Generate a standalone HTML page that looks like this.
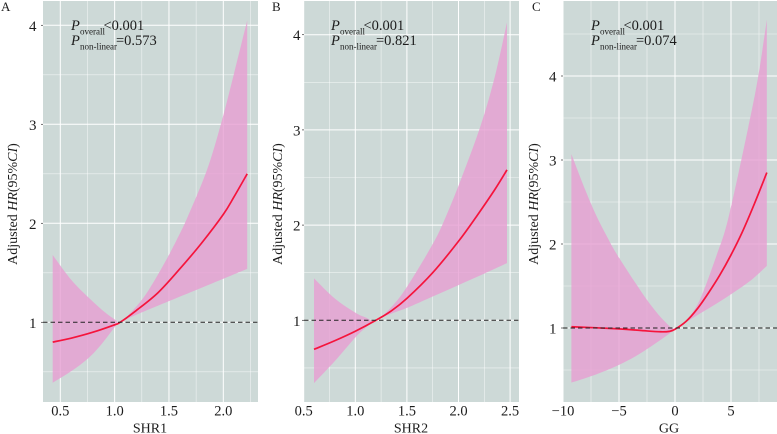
<!DOCTYPE html>
<html lang="en">
<head>
<meta charset="utf-8">
<title>Adjusted HR restricted cubic spline panels</title>
<style>
html,body{margin:0;padding:0;background:#fff;}
svg{display:block;font-family:"Liberation Serif",serif;fill:#1c1c1c;}
</style>
</head>
<body>
<svg id="chart" width="777" height="434" viewBox="0 0 777 434" xmlns="http://www.w3.org/2000/svg"></svg>
<script>
// Panel A data
const aLineX = [0.43,0.6,0.8,1.0,1.05,1.2,1.4,1.6,1.8,2.0,2.1,2.22];
const aLineY = [0.80,0.84,0.90,0.975,1.0,1.12,1.30,1.54,1.80,2.09,2.27,2.50];
const aUpperX = [0.43,0.6,0.76,0.9,1.0,1.05,1.15,1.26,1.36,1.47,1.57,1.67,1.85,1.98,2.1,2.22];
const aUpperY = [1.68,1.43,1.25,1.11,1.03,1.0,1.10,1.24,1.41,1.62,1.83,2.06,2.54,3.01,3.52,4.05];
const aLowerX = [0.43,0.6,0.76,0.88,1.0,1.05,1.25,1.47,1.78,2.0,2.22];
const aLowerY = [0.39,0.505,0.64,0.78,0.95,1.0,1.10,1.20,1.34,1.44,1.54];
const aXTicks = [0.5,1.0,1.5,2.0];
const aXMinor = [0.75,1.25,1.75,2.25];
const aYTicks = [1,2,3,4];
const aYMinor = [0.5,1.5,2.5,3.5];
// Panel B data
const bLineX = [0.6,0.8,1.0,1.2,1.35,1.5,1.75,2.0,2.18,2.35,2.47];
const bLineY = [0.695,0.785,0.885,1.0,1.10,1.23,1.50,1.83,2.10,2.37,2.58];
const bUpperX = [0.6,0.8,1.0,1.1,1.2,1.35,1.5,1.75,1.87,2.02,2.21,2.35,2.47];
const bUpperY = [1.44,1.23,1.08,1.03,1.0,1.14,1.35,1.80,2.07,2.47,3.03,3.55,4.13];
const bLowerX = [0.6,0.8,1.0,1.1,1.2,1.35,1.5,1.75,2.0,2.25,2.47];
const bLowerY = [0.34,0.57,0.82,0.92,1.0,1.07,1.13,1.25,1.37,1.49,1.60];
const bXTicks = [0.5,1.0,1.5,2.0,2.5];
const bXMinor = [0.75,1.25,1.75,2.25];
const bYTicks = [1,2,3,4];
const bYMinor = [0.5,1.5,2.5,3.5];
// Panel C data
const cLineX = [-9.25,-5,-3,-1.3,-0.5,0,1,2,3,4,5,6,7,8.2];
const cLineY = [1.015,0.99,0.97,0.955,0.96,0.985,1.08,1.23,1.42,1.63,1.87,2.14,2.45,2.85];
const cUpperX = [-9.25,-8,-7,-6,-5.2,-3.5,-2.2,-1,0,1,2.2,3.7,4.75,6.4,7.4,8.2];
const cUpperY = [3.07,2.64,2.33,2.07,1.88,1.53,1.28,1.09,0.99,1.09,1.33,1.86,2.30,3.30,3.97,4.67];
const cLowerX = [-9.25,-7,-5.1,-3.5,-2.2,-1,0,1,2.2,3.7,5.2,6.8,8.2];
const cLowerY = [0.35,0.45,0.555,0.665,0.775,0.885,0.98,1.07,1.17,1.29,1.42,1.57,1.74];
const cXTicks = [-10,-5,0,5];
const cXMinor = [-7.5,-2.5,2.5,7.5];
const cYTicks = [1,2,3,4];
const cYMinor = [0.5,1.5,2.5,3.5,4.5];

const NS = 'http://www.w3.org/2000/svg';
const root = document.getElementById('chart');

function make(parent, tag, attrs, text) {
  const el = document.createElementNS(NS, tag);
  for (const k in attrs) el.setAttribute(k, attrs[k]);
  if (text !== undefined) el.textContent = text;
  parent.appendChild(el);
  return el;
}
function smooth(pts, move) {
  let d = (move ? 'M' : 'L') + pts[0][0].toFixed(2) + ' ' + pts[0][1].toFixed(2);
  for (let i = 0; i < pts.length - 1; i++) {
    const p0 = pts[Math.max(i - 1, 0)], p1 = pts[i], p2 = pts[i + 1], p3 = pts[Math.min(i + 2, pts.length - 1)];
    const c1x = p1[0] + (p2[0] - p0[0]) / 6, c1y = p1[1] + (p2[1] - p0[1]) / 6;
    const c2x = p2[0] - (p3[0] - p1[0]) / 6, c2y = p2[1] - (p3[1] - p1[1]) / 6;
    d += 'C' + c1x.toFixed(2) + ' ' + c1y.toFixed(2) + ' ' + c2x.toFixed(2) + ' ' + c2y.toFixed(2) + ' ' + p2[0].toFixed(2) + ' ' + p2[1].toFixed(2);
  }
  return d;
}
function drawPanel(cfg) {
  const g = make(root, 'g', {});
  
  
  const sx = v => cfg.x0 + (v - cfg.xa) * cfg.xk;
  const sy = v => cfg.y1 - (v - 1) * cfg.yk;
  const bg = make(g, 'rect', {x: cfg.left, y: 1, width: cfg.right - cfg.left, height: 401, fill: '#cdd9d7'});
  
  
  cfg.xMinor.forEach(v => {
    const l = make(g, 'line', {x1: sx(v), x2: sx(v), y1: 1, y2: 402, stroke: '#fff', 'stroke-width': 0.6, 'stroke-opacity': 0.7});
    
    
  });
  cfg.yMinor.forEach(v => {
    const l = make(g, 'line', {x1: cfg.left, x2: cfg.right, y1: sy(v), y2: sy(v), stroke: '#fff', 'stroke-width': 0.6, 'stroke-opacity': 0.7});
    
    
  });
  cfg.xTicks.forEach(v => {
    const l = make(g, 'line', {x1: sx(v), x2: sx(v), y1: 1, y2: 402, stroke: '#fff', 'stroke-width': 1});
    
    
    const t = make(g, 'text', {x: sx(v), y: 415.5, 'text-anchor': 'middle', 'font-size': 14.5},
      cfg.xDigits ? v.toFixed(cfg.xDigits) : String(v).replace('-', '\u2212'));
    
    
  });
  cfg.yTicks.forEach(v => {
    const l = make(g, 'line', {x1: cfg.left, x2: cfg.right, y1: sy(v), y2: sy(v), stroke: '#fff', 'stroke-width': 1});
    
    
    const tick = make(g, 'line', {x1: cfg.left - 2, x2: cfg.left, y1: sy(v), y2: sy(v), stroke: '#333', 'stroke-width': 0.7});
    
    
    const t = make(g, 'text', {x: cfg.left - cfg.labelGap, y: sy(v) + 5.5, 'text-anchor': 'end', 'font-size': 15}, String(v));
    
    
  });
  const up = cfg.upX.map((v, i) => [sx(v), sy(cfg.up[i])]);
  const lo = cfg.loX.map((v, i) => [sx(v), sy(cfg.lo[i])]).reverse();
  const band = make(g, 'path', {d: smooth(up, true) + smooth(lo, false) + 'Z', fill: 'rgb(231,158,210)', 'fill-opacity': 0.8});
  
  
  const curve = make(g, 'path', {d: smooth(cfg.lineX.map((v, i) => [sx(v), sy(cfg.line[i])]), true), fill: 'none', stroke: '#f5143c', 'stroke-width': 1.7});
  
  
  const ref = make(g, 'line', {x1: cfg.left, x2: cfg.right, y1: sy(1), y2: sy(1), stroke: '#222', 'stroke-width': 1, 'stroke-dasharray': '4.5 3'});
  
  

  const letter = make(g, 'text', {x: cfg.letterX, y: 11, 'font-size': 13}, cfg.id);
  
  
  const xt = make(g, 'text', {x: cfg.xTitleX, y: 432.5, 'text-anchor': 'middle', 'font-size': 14}, cfg.xName);
  
  
  const yt = make(g, 'text', {transform: 'translate(' + cfg.yTitleX + ',204) rotate(-90)', 'text-anchor': 'middle', 'font-size': 14});
  
  
  make(yt, 'tspan', {}, 'Adjusted ');
  make(yt, 'tspan', {'font-style': 'italic'}, 'HR');
  make(yt, 'tspan', {}, '(95%');
  make(yt, 'tspan', {'font-style': 'italic'}, 'CI');
  make(yt, 'tspan', {}, ')');

  const px = cfg.pX;
  const a1 = make(g, 'text', {x: px, y: 30, 'font-size': 14.5});
  
  
  make(a1, 'tspan', {'font-style': 'italic'}, 'P');
  make(a1, 'tspan', {x: px + 9, y: 34.5, 'font-size': 9}, 'overall');
  make(a1, 'tspan', {x: px + 32.5, y: 30}, '<0.001');
  const a2 = make(g, 'text', {x: px, y: 45, 'font-size': 14.5});
  
  
  make(a2, 'tspan', {'font-style': 'italic'}, 'P');
  make(a2, 'tspan', {x: px + 9, y: 49.5, 'font-size': 9}, 'non-linear');
  make(a2, 'tspan', {x: px + 45, y: 45}, '=' + cfg.pNon);
}

drawPanel({id:'A', left:43, right:258, x0:60.3, xa:0.5, xk:108.67, y1:322.3, yk:99, labelGap:6.5,
  xTicks:aXTicks, xMinor:aXMinor, yTicks:aYTicks, yMinor:aYMinor, xDigits:1,
  lineX:aLineX, line:aLineY, upX:aUpperX, up:aUpperY, loX:aLowerX, lo:aLowerY,
  letterX:1, xTitleX:150, yTitleX:17, xName:'SHR1', pX:71, pNon:'0.573'});
drawPanel({id:'B', left:304, right:519, x0:303.7, xa:0.5, xk:103.2, y1:320.3, yk:95.2, labelGap:3.5,
  xTicks:bXTicks, xMinor:bXMinor, yTicks:bYTicks, yMinor:bYMinor, xDigits:1,
  lineX:bLineX, line:bLineY, upX:bUpperX, up:bUpperY, loX:bLowerX, lo:bLowerY,
  letterX:272, xTitleX:411, yTitleX:282, xName:'SHR2', pX:331, pNon:'0.821'});
drawPanel({id:'C', left:563, right:777, x0:563, xa:-10, xk:11.2, y1:328, yk:84, labelGap:6.5,
  xTicks:cXTicks, xMinor:cXMinor, yTicks:cYTicks, yMinor:cYMinor, xDigits:0,
  lineX:cLineX, line:cLineY, upX:cUpperX, up:cUpperY, loX:cLowerX, lo:cLowerY,
  letterX:532, xTitleX:669, yTitleX:538, xName:'GG', pX:591, pNon:'0.074'});
</script>
</body>
</html>
